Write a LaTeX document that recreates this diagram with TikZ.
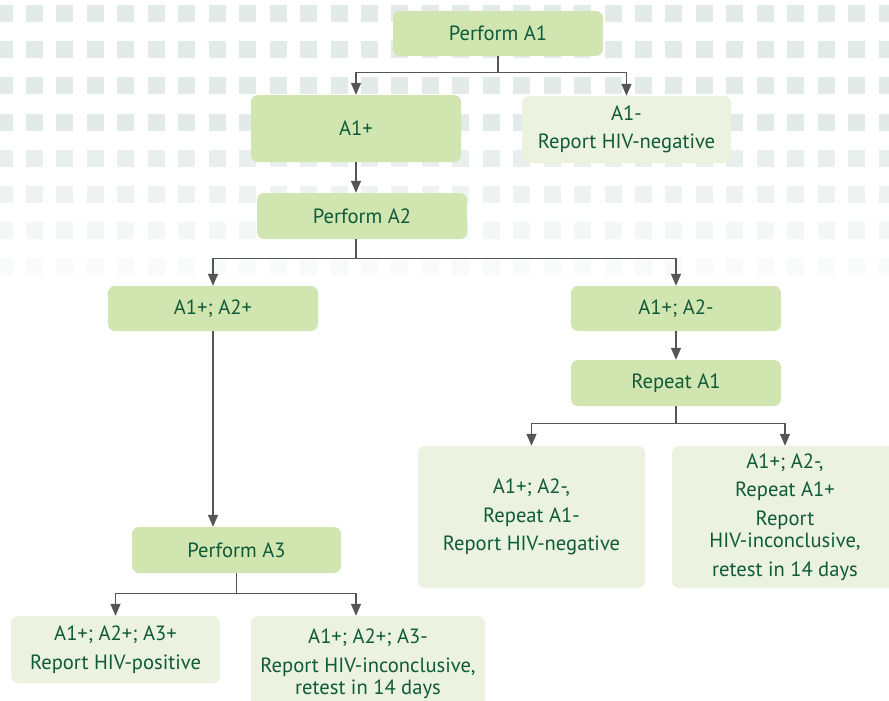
\documentclass[tikz,border=0pt]{standalone}
\usepackage{fontspec}
\setmainfont{PT Sans}
\usetikzlibrary{arrows.meta,calc}
\definecolor{boxdark}{HTML}{D1E5B1}
\definecolor{boxlight}{HTML}{EBF2DF}
\definecolor{txt}{HTML}{0F5A38}
\definecolor{conncol}{HTML}{555555}
\definecolor{sq}{HTML}{E2EBE8}
\begin{document}
\begin{tikzpicture}[x=1pt,y=-1pt,
  boxbase/.style={rounded corners=7pt, text=txt, align=center, inner sep=0pt,
    font=\fontsize{20.6}{28.5}\selectfont},
  dark/.style={boxbase, fill=boxdark},
  light/.style={boxbase, fill=boxlight},
  line/.style={draw=conncol, line width=1.3pt},
  arr/.style={line, -{Triangle[length=12pt,width=10pt]}}]
\useasboundingbox (0,0) rectangle (889,701);
% background squares
\foreach \r/\op in {0/1,1/1,2/1,3/1,4/0.8,5/0.6,6/0.4,7/0.2}{
  \foreach \k in {0,...,29}{
    \fill[sq, opacity=\op] ({-4.45+30.45*\k},{5+36.2*\r}) rectangle ++(17,17);
  }
}
% nodes
\node[dark, minimum width=210pt, minimum height=45pt] (pa1) at (498,33.5) {Perform A1};
\node[dark, minimum width=210pt, minimum height=67pt] (a1p) at (356,128.5) {A1+};
\node[light, minimum width=209pt, minimum height=67pt] (a1m) at (626.5,129.5) {A1-\\Report HIV-negative};
\node[dark, minimum width=210pt, minimum height=46pt] (pa2) at (362,216) {Perform A2};
\node[dark, minimum width=210pt, minimum height=45pt] (a12p) at (213,308.5) {A1+; A2+};
\node[dark, minimum width=210pt, minimum height=45pt] (a12m) at (676,308.5) {A1+; A2-};
\node[dark, minimum width=210pt, minimum height=46pt] (ra1) at (676,383) {Repeat A1};
\node[light, minimum width=227pt, minimum height=142pt] (rneg) at (531.5,517) {A1+; A2-,\\Repeat A1-\\Report HIV-negative};
\node[light, minimum width=226pt, minimum height=142pt] (rinc) at (785,517) {A1+; A2-,\\Repeat A1+\\Report\\[-6pt]HIV-inconclusive,\\retest in 14 days};
\node[dark, minimum width=209pt, minimum height=46pt] (pa3) at (236.5,550) {Perform A3};
\node[light, minimum width=209pt, minimum height=67pt] (rpos) at (115.5,649.5) {A1+; A2+; A3+\\Report HIV-positive};
\node[light, minimum width=234pt, minimum height=96pt] (rinc3) at (368,664) {A1+; A2+; A3-\\Report HIV-inconclusive,\\[-6pt]retest in 14 days};
% connectors
\coordinate (j1) at ($(pa1.south)+(0,16)$);
\draw[line] (pa1.south) -- (j1);
\draw[arr] (j1) -| (a1p.north);
\draw[arr] (j1) -| (a1m.north);
\draw[arr] (a1p.south) -- (a1p.south |- pa2.north);
\coordinate (s2) at (a1p.south |- pa2.south);
\coordinate (j2) at ($(s2)+(0,19)$);
\draw[line] (s2) -- (j2);
\draw[arr] (j2) -| (a12p.north);
\draw[arr] (j2) -| (a12m.north);
\draw[arr] (a12p.south) -- (a12p.south |- pa3.north);
\draw[arr] (a12m.south) -- (ra1.north);
\coordinate (j3) at ($(ra1.south)+(0,17)$);
\draw[line] (ra1.south) -- (j3);
\draw[arr] (j3) -| (rneg.north);
\draw[arr] (j3) -| (rinc.north);
\coordinate (j4) at ($(pa3.south)+(0,20)$);
\coordinate (t4) at ($(rinc3.north)+(-12,0)$);
\draw[line] (pa3.south) -- (j4);
\draw[arr] (j4) -| (rpos.north);
\draw[arr] (j4) -| (t4);
\end{tikzpicture}
\end{document}
